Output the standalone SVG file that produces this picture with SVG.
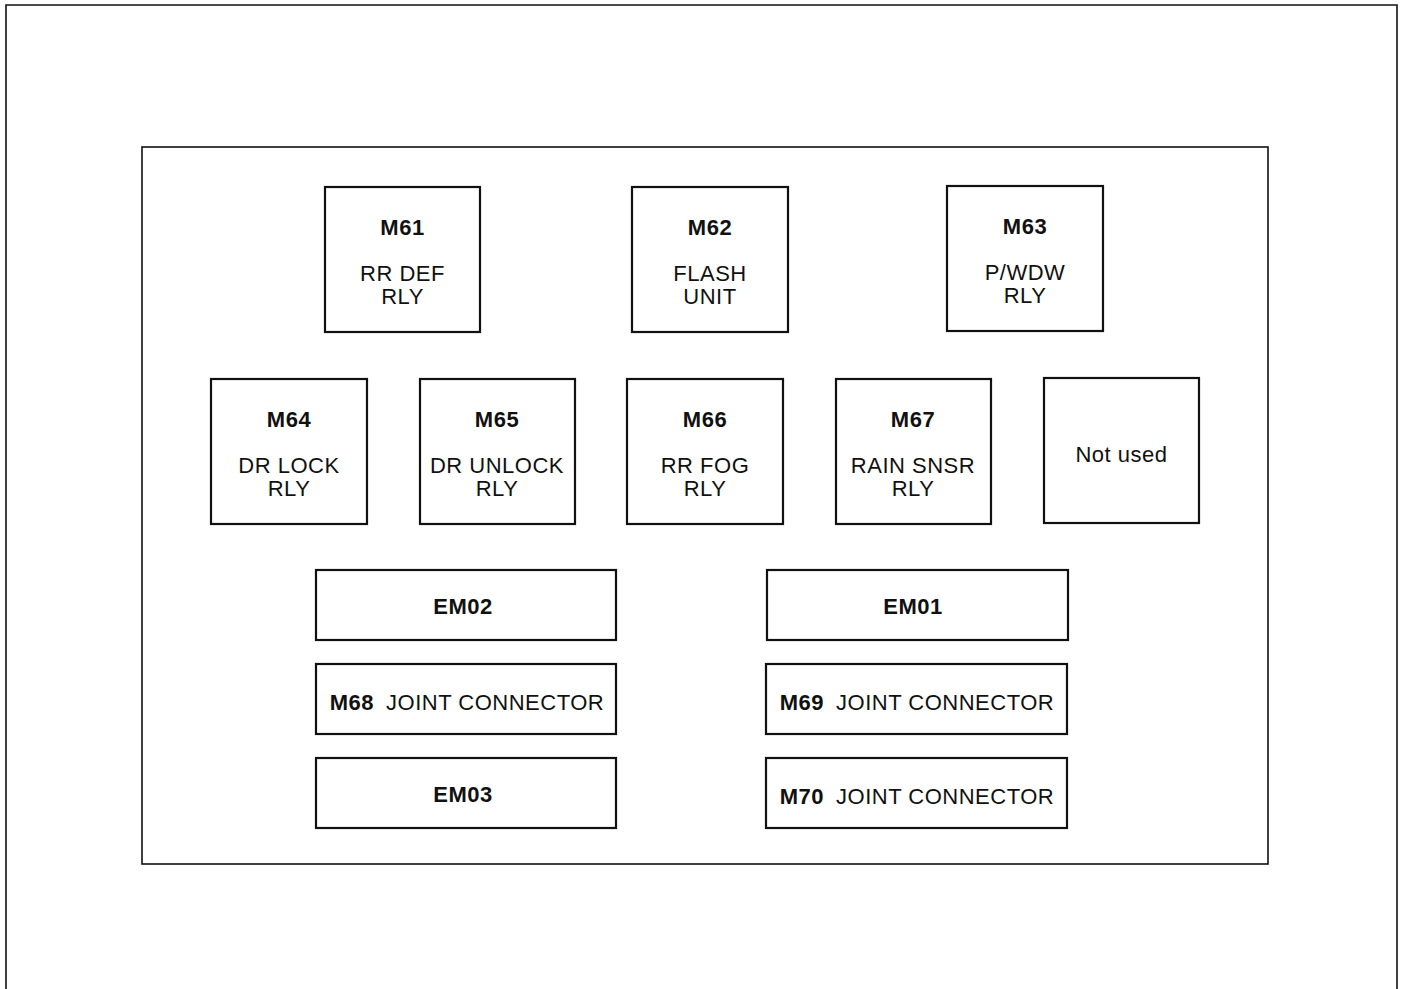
<svg xmlns="http://www.w3.org/2000/svg" width="1402" height="989" viewBox="0 0 1402 989">
<style>
.frame{fill:none;stroke:#111;stroke-width:1.6}
.box{fill:#fff;stroke:#111;stroke-width:2.2}
text{font-family:"Liberation Sans",Arial,sans-serif;font-size:22px;letter-spacing:0.5px;fill:#111;text-anchor:middle}
.b{font-weight:bold}
</style>
<rect width="1402" height="989" fill="#fff"/>
<path class="frame" d="M6,995 V5 H1397 V995"/>
<rect class="frame" x="142" y="147" width="1126" height="717"/>
<g id="M61"><rect class="box" x="325" y="187" width="155" height="145"/><text class="b" x="402.5" y="235">M61</text><text x="402.5" y="281">RR DEF</text><text x="402.5" y="304">RLY</text></g>
<g id="M62"><rect class="box" x="632" y="187" width="156" height="145"/><text class="b" x="710" y="235">M62</text><text x="710" y="281">FLASH</text><text x="710" y="304">UNIT</text></g>
<g id="M63"><rect class="box" x="947" y="186" width="156" height="145"/><text class="b" x="1025" y="234">M63</text><text x="1025" y="280">P/WDW</text><text x="1025" y="303">RLY</text></g>
<g id="M64"><rect class="box" x="211" y="379" width="156" height="145"/><text class="b" x="289" y="427">M64</text><text x="289" y="473">DR LOCK</text><text x="289" y="496">RLY</text></g>
<g id="M65"><rect class="box" x="420" y="379" width="155" height="145"/><text class="b" x="497" y="427">M65</text><text x="497" y="473">DR UNLOCK</text><text x="497" y="496">RLY</text></g>
<g id="M66"><rect class="box" x="627" y="379" width="156" height="145"/><text class="b" x="705" y="427">M66</text><text x="705" y="473">RR FOG</text><text x="705" y="496">RLY</text></g>
<g id="M67"><rect class="box" x="836" y="379" width="155" height="145"/><text class="b" x="913" y="427">M67</text><text x="913" y="473">RAIN SNSR</text><text x="913" y="496">RLY</text></g>
<g id="NotUsed"><rect class="box" x="1044" y="378" width="155" height="145"/><text x="1121.5" y="462">Not used</text></g>
<g id="EM02"><rect class="box" x="316" y="570" width="300" height="70"/><text class="b" x="463" y="614">EM02</text></g>
<g id="M68"><rect class="box" x="316" y="664" width="300" height="70"/><text x="467" y="710"><tspan class="b">M68</tspan><tspan dx="12">JOINT CONNECTOR</tspan></text></g>
<g id="EM03"><rect class="box" x="316" y="758" width="300" height="70"/><text class="b" x="463" y="802">EM03</text></g>
<g id="EM01"><rect class="box" x="767" y="570" width="301" height="70"/><text class="b" x="913" y="614">EM01</text></g>
<g id="M69"><rect class="box" x="766" y="664" width="301" height="70"/><text x="917" y="710"><tspan class="b">M69</tspan><tspan dx="12">JOINT CONNECTOR</tspan></text></g>
<g id="M70"><rect class="box" x="766" y="758" width="301" height="70"/><text x="917" y="804"><tspan class="b">M70</tspan><tspan dx="12">JOINT CONNECTOR</tspan></text></g>
<g id="connectors"></g>
</svg>
